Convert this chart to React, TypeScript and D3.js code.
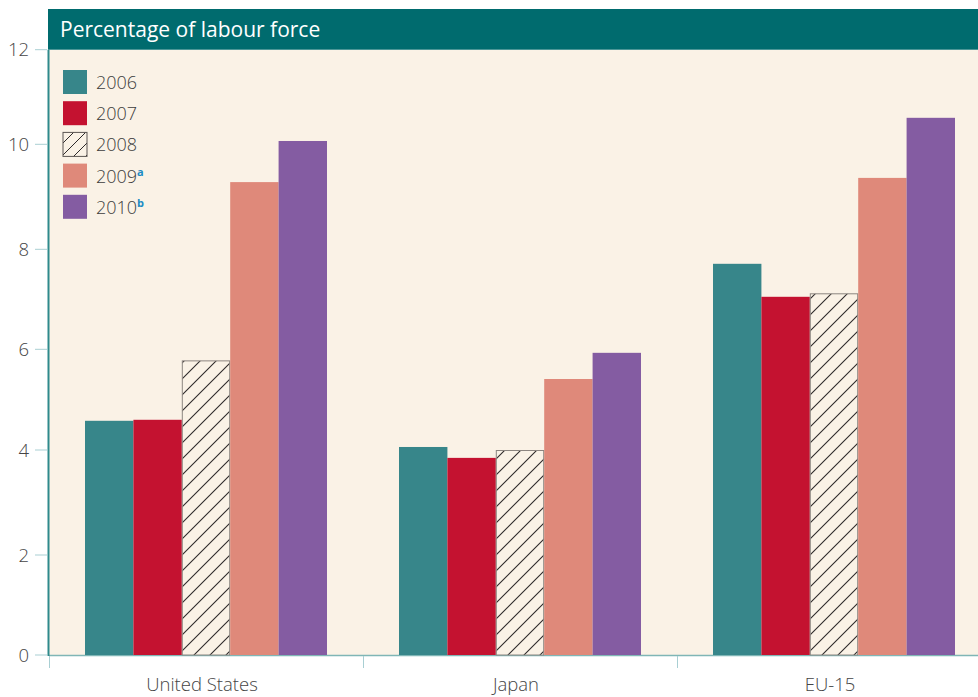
import React from "react";
import * as d3 from "d3";

const categories = ["United States", "Japan", "EU-15"];
const years = ["2006", "2007", "2008", "2009", "2010"];
const yearNotes = ["", "", "", "a", "b"];
const v2006 = [4.58, 4.06, 7.71];
const v2007 = [4.6, 3.85, 7.05];
const v2008 = [5.78, 4.0, 7.12];
const v2009 = [9.28, 5.41, 9.36];
const v2010 = [10.07, 5.93, 10.56];
const yTicks = [0, 2, 4, 6, 8, 10, 12];
const headerText = "Percentage of labour force";

const series = [v2006, v2007, v2008, v2009, v2010];
const colors = ["#37868a", "#c41230", "url(#hatch)", "#df897a", "#845ca2"];

const W = 978;
const H = 697;
const left = 49;
const bottom = 655;
const FONT = "'Open Sans', 'Noto Sans', sans-serif";

export default function App() {
  // axis ticks in the original are slightly unevenly spaced; follow them
  const y = d3
    .scaleLinear()
    .domain(yTicks)
    .range([655, 555, 450, 349.3, 249.3, 144.3, 49.7]);
  const x0 = d3.scaleBand<string>().domain(categories).range([left, left + 314 * 3]).padding(0);
  const x1 = d3
    .scaleBand<string>()
    .domain(years)
    .range([0, x0.bandwidth()])
    .paddingInner(0)
    .paddingOuter(0.744);

  const top = y(12);

  return (
    <svg
      width={W}
      height={H}
      style={{ position: "absolute", left: 0, top: 0, background: "#ffffff" }}
      fontFamily={FONT}
    >
      <defs>
        <pattern id="hatch" patternUnits="userSpaceOnUse" width={16} height={16}>
          <rect width={16} height={16} fill="#faf2e6" />
          <path d="M0,16 L16,0 M-4,4 L4,-4 M12,20 L20,12" stroke="#2e2a2a" strokeWidth={1.1} />
        </pattern>
        <pattern id="hatchLeg" patternUnits="userSpaceOnUse" width={12} height={12} x={63} y={131}>
          <rect width={12} height={12} fill="#faf2e6" />
          <path d="M0,12 L12,0 M-3,3 L3,-3 M9,15 L15,9" stroke="#2e2a2a" strokeWidth={1} />
        </pattern>
        <clipPath id="plotClip">
          <rect x={left} y={0} width={W - left} height={H} />
        </clipPath>
      </defs>

      {/* plot background */}
      <rect x={left} y={top} width={W - left} height={bottom - top} fill="#faf2e6" />

      {/* header */}
      <rect x={left - 1} y={9} width={W - left + 1} height={top - 9} fill="#006b6e" />
      <text x={60} y={37} fill="#ffffff" fontSize={21}>
        {headerText}
      </text>

      {/* baseline */}
      <line x1={left} x2={W} y1={bottom + 0.5} y2={bottom + 0.5} stroke="#7fb6b6" strokeWidth={1.5} />

      {/* bars */}
      <g clipPath="url(#plotClip)">
        {categories.map((c, ci) => (
          <g key={c} transform={`translate(${x0(c)},0)`}>
            {years.map((yr, si) => {
              const v = series[si][ci];
              const isHatch = si === 2;
              return (
                <rect
                  key={yr}
                  x={x1(yr)! + (isHatch ? 0.5 : 0)}
                  y={y(v) + (isHatch ? 0.5 : 0)}
                  width={x1.bandwidth() - (isHatch ? 1 : 0)}
                  height={bottom - y(v) - (isHatch ? 0.5 : 0)}
                  fill={colors[si]}
                  stroke={isHatch ? "#8c8580" : "none"}
                  strokeWidth={isHatch ? 1 : 0}
                />
              );
            })}
          </g>
        ))}
      </g>

      {/* y axis line */}
      <line x1={left - 0.5} x2={left - 0.5} y1={top} y2={bottom + 1} stroke="#2f8a8c" strokeWidth={2} />

      {/* y ticks */}
      {yTicks.map((t) => (
        <g key={t}>
          <line x1={35} x2={47} y1={y(t)} y2={y(t)} stroke="#a9cfd3" strokeWidth={1} />
          <text x={29} y={y(t) + 6.5} textAnchor="end" fontSize={18.5} fontWeight={300} fill="#454545">
            {t}
          </text>
        </g>
      ))}

      {/* category ticks */}
      {categories.map((c) => (
        <line
          key={c}
          x1={x0(c)! + 0.5}
          x2={x0(c)! + 0.5}
          y1={bottom + 1}
          y2={668}
          stroke="#a9cfd3"
          strokeWidth={1}
        />
      ))}

      {/* category labels */}
      {categories.map((c) => (
        <text
          key={c}
          x={x0(c)! + x0.bandwidth() / 2 - 4}
          y={691}
          textAnchor="middle"
          fontSize={18.5}
          fontWeight={300}
          fill="#454545"
        >
          {c}
        </text>
      ))}

      {/* legend */}
      {years.map((yr, i) => {
        const ly = 70 + i * 31.2;
        return (
          <g key={yr}>
            <rect
              x={63}
              y={ly}
              width={24}
              height={24}
              fill={i === 2 ? "url(#hatchLeg)" : colors[i]}
              stroke={i === 2 ? "#5a5552" : "none"}
              strokeWidth={1}
            />
            <text x={96} y={ly + 19} fontSize={18} fontWeight={300} fill="#3d3d3d">
              {yr}
              {yearNotes[i] ? (
                <tspan dy={-7} fontSize={11} fontWeight="bold" fill="#1a8bc4">
                  {yearNotes[i]}
                </tspan>
              ) : null}
            </text>
          </g>
        );
      })}
    </svg>
  );
}
